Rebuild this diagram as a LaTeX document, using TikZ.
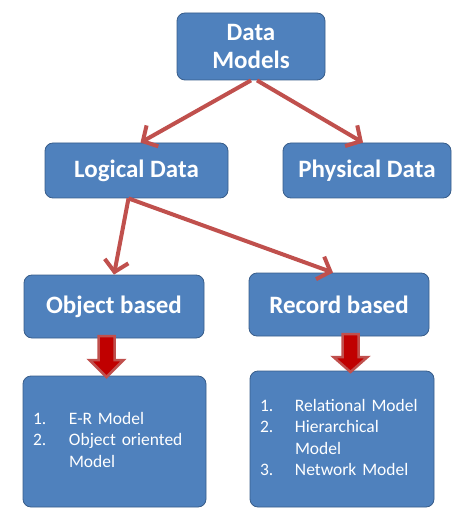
\documentclass[tikz,border=0pt]{standalone}
\usepackage{fontspec}
\setmainfont{Carlito}
\usetikzlibrary{arrows.meta}
\definecolor{boxblue}{RGB}{79,129,189}
\definecolor{boxline}{RGB}{56,93,138}
\definecolor{arrowred}{RGB}{192,80,77}
\definecolor{darkred}{RGB}{192,0,0}
\begin{document}
\begin{tikzpicture}[x=1pt, y=-1pt, thick,
    main/.style = {draw=boxline, fill=boxblue, rounded corners=8pt, text=white, align=center, inner sep=0pt, font=\fontsize{25}{28}\selectfont\bfseries},
    list/.style = {draw=boxline, fill=boxblue, rounded corners=8pt, text=white, align=left, inner xsep=10pt, inner ysep=0pt, font=\fontsize{17.5}{21.5}\selectfont},
    link/.style = {-{Straight Barb[length=11pt,width=24pt]}, arrowred, line width=4pt},
    fat/.style = {fill=darkred, draw=arrowred, line width=2.5pt, line join=miter}]
    \useasboundingbox (0,0) rectangle (474,526);
    \node[main, minimum width=148pt, minimum height=67pt] (1) at (251,46.5) {Data\\Models};
    \node[main, minimum width=183pt, minimum height=55pt] (2) at (136.5,170.5) {Logical Data};
    \node[main, minimum width=168pt, minimum height=55pt] (3) at (367,170.5) {Physical Data};
    \node[main, minimum width=180pt, minimum height=63pt] (4) at (114,306.5) {Object based};
    \node[main, minimum width=180pt, minimum height=63pt] (5) at (339,304.5) {Record based};
    \node[list, minimum height=131pt, text width=163pt] (6) at (114.5,441.5) {\begin{tabular}{@{}p{36pt}@{}l@{}}
        1. & E-R Model\\
        2. & Object oriented\\
           & Model
    \end{tabular}};
    \node[list, minimum height=136pt, text width=164pt, inner xsep=10pt] (7) at (342,439) {\begin{tabular}{@{}p{35pt}@{}l@{}}
        1. & Relational Model\\
        2. & Hierarchical\\
           & Model\\
        3. & Network Model
    \end{tabular}};
    %thin arrows
    \draw[link] (1.south) to ([xshift=4pt]2.north);
    \draw[link] ([xshift=6pt]1.south) to ([xshift=-4pt]3.north);
    \draw[link] ([xshift=-8pt]2.south) to (4.north);
    \draw[link] ([xshift=-8pt]2.south) to ([xshift=-6pt]5.north);
    %block arrows
    \filldraw[fat] (98.5,336) -- (114.5,336) -- (114.5,360) -- (123.5,360) -- (106.5,377) -- (89.5,360) -- (98.5,360) -- cycle;
    \filldraw[fat] (342.5,334) -- (358.5,334) -- (358.5,357) -- (367.5,357) -- (350.5,372) -- (333.5,357) -- (342.5,357) -- cycle;
\end{tikzpicture}
\end{document}
